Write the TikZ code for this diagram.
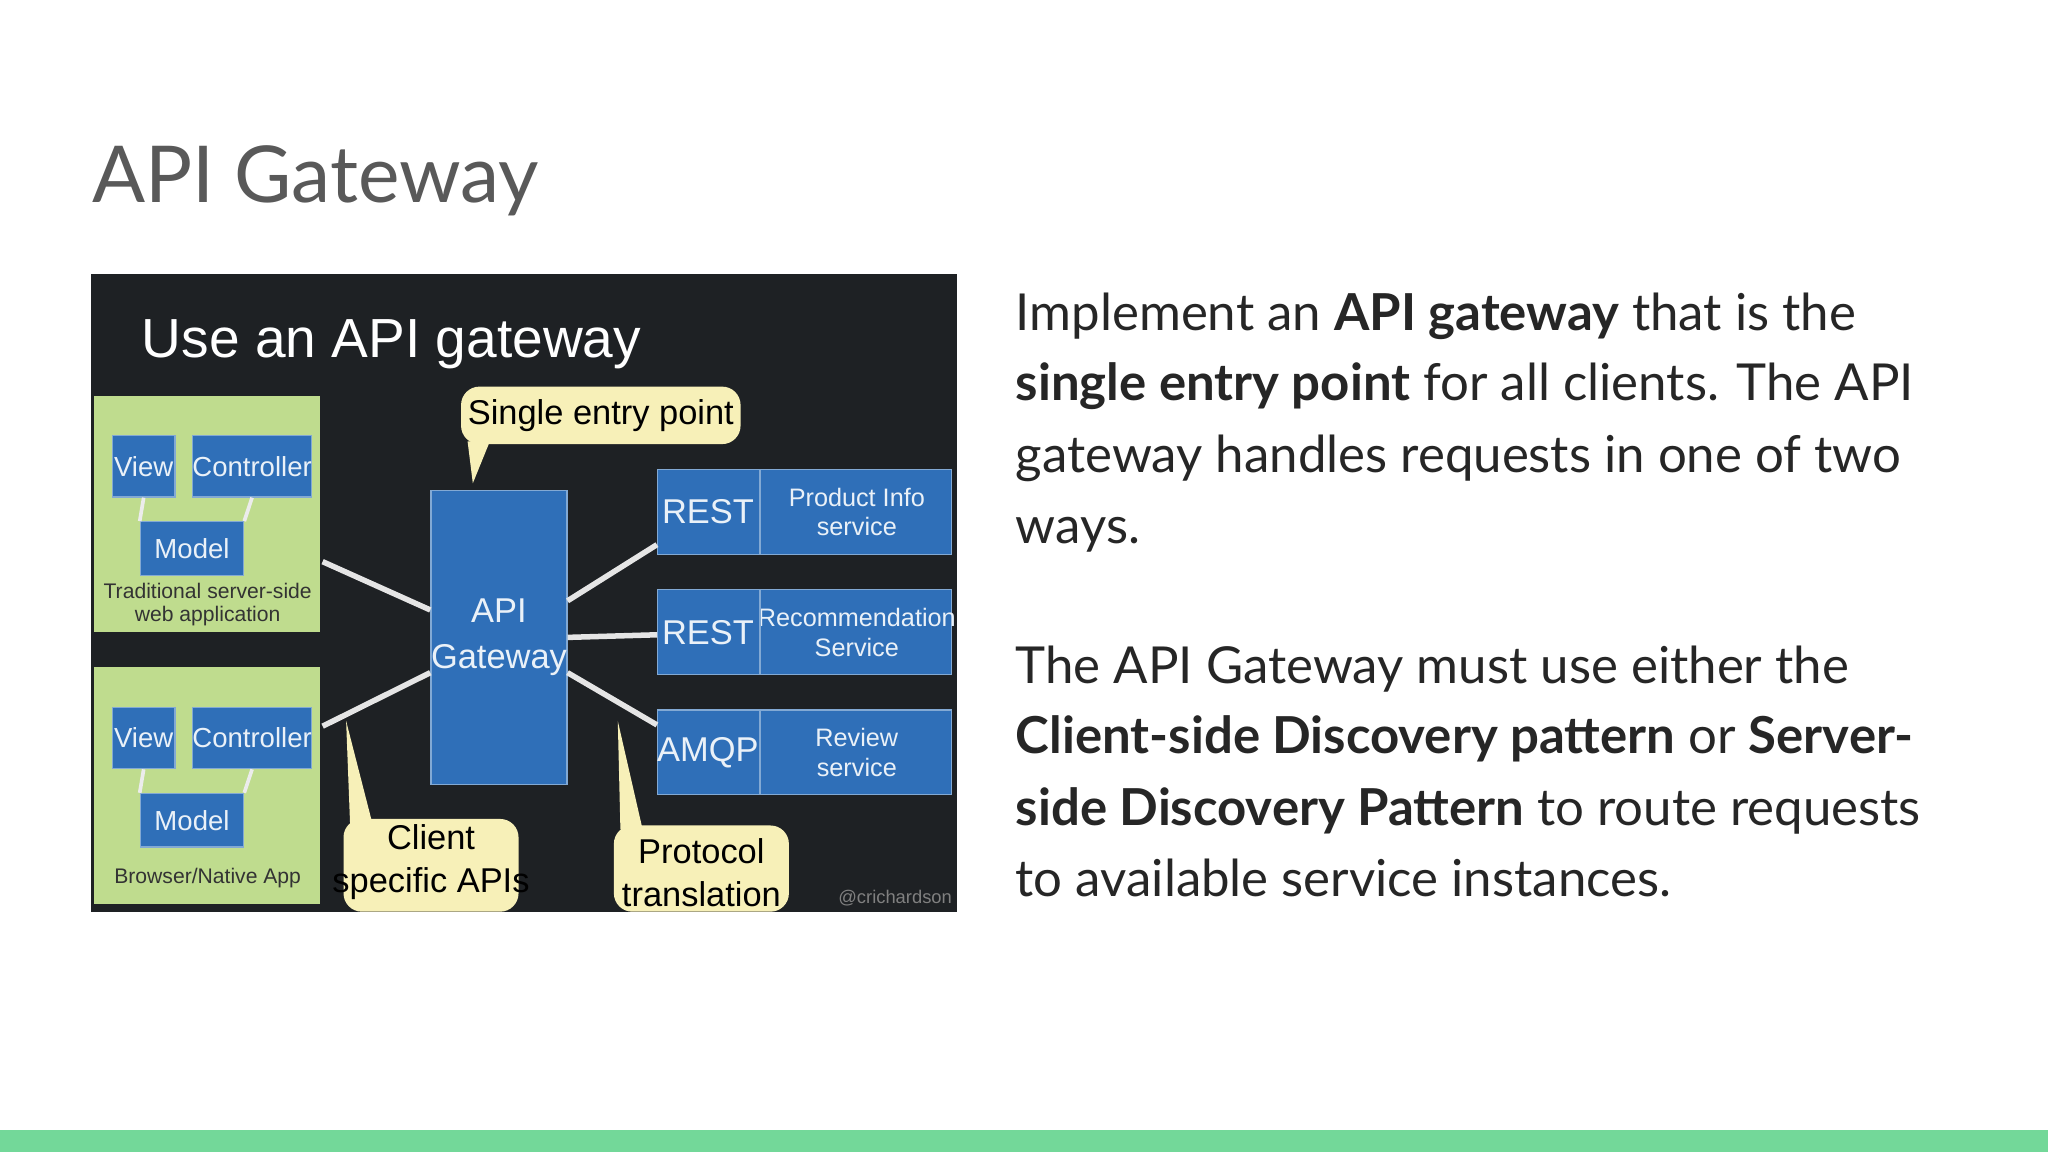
\documentclass[tikz,border=0pt]{standalone}
\usepackage{fontspec}
\setmainfont{Lato}
\newfontfamily\sfs{Liberation Sans}
\definecolor{bx}{HTML}{2F6FB8}
\definecolor{gr}{HTML}{BFDC8E}
\definecolor{yl}{HTML}{F7F0B8}
\definecolor{bg}{HTML}{1E2124}
\begin{document}
\begin{tikzpicture}[x=0.1mm,y=-0.1mm,
  blue/.style={fill=bx,draw=bx!60!white,line width=0.3pt,inner sep=0pt},
  callout/.style={fill=yl,draw=none},
  ln/.style={draw=white!80!gray,line width=1.2pt},
  wt/.style={text=white!90!bx,font=\sfs\fontsize{6}{7}\selectfont,align=center,inner sep=0pt},
  ct/.style={align=center,font=\sfs\fontsize{7.5}{9.5}\selectfont,inner sep=0pt},
  body/.style={anchor=base west,inner sep=0pt,font=\fontsize{11.1}{13}\selectfont,text=black!85}]
\path[use as bounding box,fill=white] (0,0) rectangle (1568,882);
\fill[green!45!teal!55!white] (0,865) rectangle (1568,882);
\node[anchor=base west,inner sep=0pt,text=black!65,font=\fontsize{17.1}{20}\selectfont] (title) at (70,155) {API Gateway};
% screenshot
\fill[bg] (70,210) rectangle (733,698);
\node[anchor=base west,inner sep=0pt,text=white,font=\sfs\fontsize{12}{14}\selectfont] (st) at (108,274) {Use an API gateway};
\fill[gr] (72,303) rectangle (245,484);
\fill[gr] (72,511) rectangle (245,692);
\foreach \o/\n in {0/a,208/b}{
 \node[blue,minimum width=4.8mm,minimum height=4.7mm,wt] (v\n) at (110,357+\o) {View};
 \node[blue,minimum width=8.9mm,minimum height=4.7mm,wt] (c\n) at (193,357+\o) {Controller};
 \node[blue,minimum width=7.9mm,minimum height=4.1mm,wt] (m\n) at (147,420+\o) {Model};
 \draw[white!85!gray,line width=0.8pt] (v\n.south) -- (m\n.north west);
 \draw[white!85!gray,line width=0.8pt] (c\n.south) -- (m\n.north east);
}
\node[align=center,inner sep=0pt,font=\sfs\fontsize{4.6}{5}\selectfont,text=black!80] (la) at (159,463) {Traditional server-side\\web application};
\node[inner sep=0pt,font=\sfs\fontsize{4.6}{5}\selectfont,text=black!80] (lb) at (159,672) {Browser/Native App};
\node[blue,minimum width=9.7mm,minimum height=22.5mm,wt,font=\sfs\fontsize{7.5}{10}\selectfont] (gw) at (382,488) {API\\Gateway};
\foreach \y/\p/\s/\n in {392/REST/{Product Info\\service}/s1,484/REST/{Recommendation\\Service}/s2,576/AMQP/{Review\\service}/s3}{
 \node[blue,minimum width=22.5mm,minimum height=6.5mm] (\n) at (616,\y) {};
 \node[wt,font=\sfs\fontsize{7.5}{9}\selectfont] at (542,\y) {\p};
 \node[wt,font=\sfs\fontsize{5.5}{6.5}\selectfont] at (656,\y) {\s};
 \draw[bx!60!white,line width=0.3pt] (582,\y-32) -- (582,\y+32);
}
\coordinate (pa) at (247,430); \coordinate (pb) at (247,556);
\draw[ln] (pa) -- (gw.west |- 0,467);
\draw[ln] (pb) -- (gw.west |- 0,515);
\draw[ln] (gw.east |- 0,460) -- (s1.west |- 0,417);
\draw[ln] (gw.east |- 0,488) -- (s2.west |- 0,486);
\draw[ln] (gw.east |- 0,515) -- (s3.west |- 0,555);
% callouts
\fill[callout,rounded corners=4pt] (353,296) rectangle (567,340);
\fill[callout] (358,338) -- (362,370) -- (375,338) -- cycle;
\node[ct] (ce) at (460,318) {Single entry point};
\fill[callout,rounded corners=4pt] (263,627) rectangle (397,698);
\fill[callout] (268,630) -- (265,552) -- (285,630) -- cycle;
\node[ct] (cc) at (330,660) {Client\\specific APIs};
\fill[callout,rounded corners=4pt] (470,632) rectangle (604,698);
\fill[callout] (475,635) -- (473,552) -- (492,635) -- cycle;
\node[ct] (cp) at (537,668) {Protocol\\translation};
\node[anchor=south east,inner sep=1pt,text=gray,font=\sfs\fontsize{4}{5}\selectfont] (cr) at (733,698) {@crichardson};
% body text
\node[body] at (777,253) {Implement an \textbf{API gateway} that is the};
\node[body] at (777,307) {\textbf{single entry point} for all clients. The API};
\node[body] at (777,362) {gateway handles requests in one of two};
\node[body] at (777,416) {ways.};
\node[body] at (777,523) {The API Gateway must use either the};
\node[body] at (777,577) {\textbf{Client-side Discovery pattern} or \textbf{Server-}};
\node[body] at (777,632) {\textbf{side Discovery Pattern} to route requests};
\node[body] at (777,686) {to available service instances.};
\end{tikzpicture}
\end{document}
